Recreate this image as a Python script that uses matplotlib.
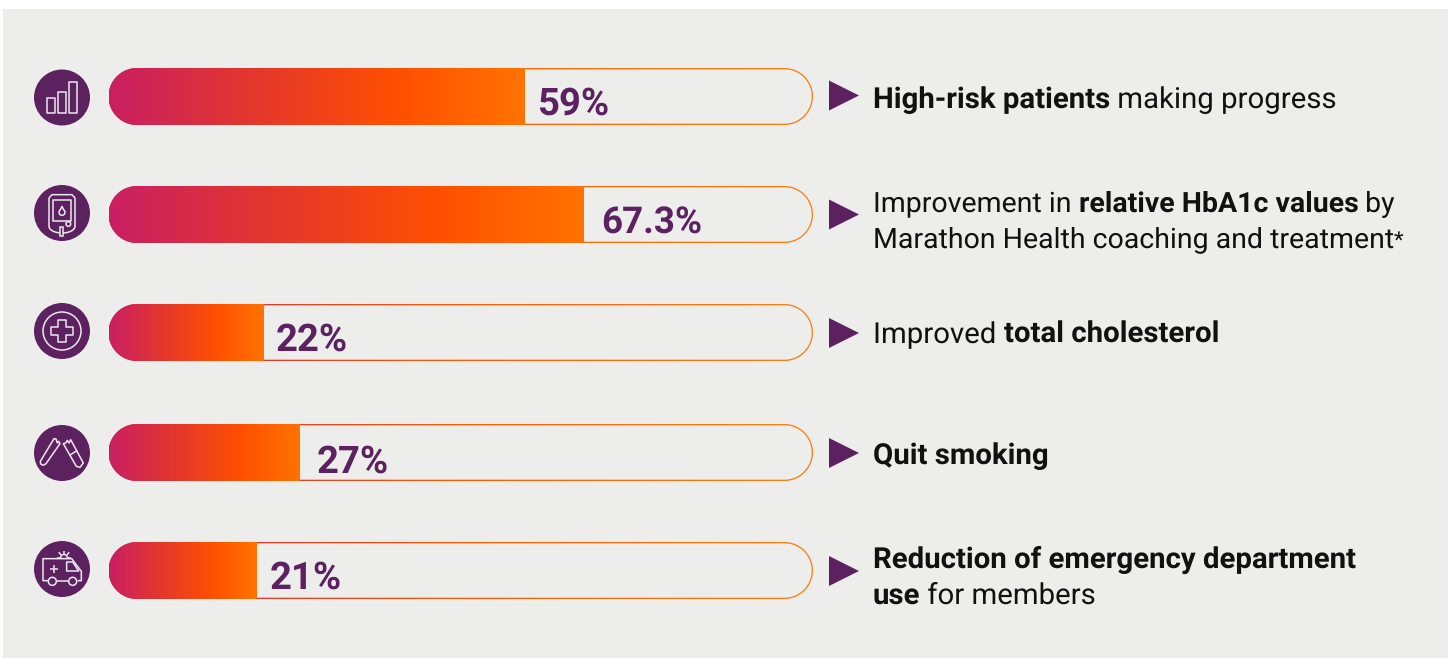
import numpy as np
import matplotlib
matplotlib.use('Agg')
import matplotlib.pyplot as plt
from matplotlib.colors import LinearSegmentedColormap
from matplotlib.patches import Circle, Polygon, Rectangle
from matplotlib.path import Path

plt.rcParams['font.family'] = ['Roboto', 'DejaVu Sans']
plt.rcParams['text.hinting'] = 'no_hinting'

# values
percent_values = [59, 67.3, 22, 27, 21]
percent_labels = ['59%', '67.3%', '22%', '27%', '21%']
# each caption is a list of lines, each line a list of (text, bold) runs
captions = [
    [[('High-risk patients', True), (' making progress', False)]],
    [[('Improvement in ', False), ('relative HbA1c values', True), (' by', False)],
     [('Marathon Health coaching and treatment', False), ('*', False)]],
    [[('Improved ', False), ('total cholesterol', True)]],
    [[('Quit smoking', True)]],
    [[('Reduction of emergency department', True)],
     [('use', True), (' for members', False)]],
]

# layout, in pixels from the top left
W, H = 1448, 658
row_y = [96.5, 214.5, 332.5, 452.5, 570.5]
icon_y = [97.5, 213, 331, 453, 569]
arrow_y = [95.5, 214.5, 333, 453, 571]
label_x = [537, 601, 276, 317, 270]
label_base = [115, 233.5, 350.5, 472.5, 589]
label_size = [27.5, 26.5, 27.5, 27.5, 27.5]
caption_base = [[108], [211.5, 247.5], [343], [464], [568, 604]]
caption_size = [21.2, 20.5, 21.2, 21.2, 21.2]
BAR_X0, BAR_X1 = 108.5, 813
BAR_H = 57
ICON_X = 62

BG = '#EDEDEB'
PURPLE = '#5C2260'
LINE = '#EDE6EE'
grad = LinearSegmentedColormap.from_list(
    'bar', [(0, '#C91F63'), (0.33, '#E2362F'), (0.7, '#FF5000'), (1, '#FF7300')])
outline_grad = LinearSegmentedColormap.from_list(
    'outline', [(0, '#C91F63'), (0.2, '#E2362F'), (0.5, '#FF5A00'), (1, '#FF7F10')])
ramp = np.linspace(0, 1, 256)[None, :]

fig = plt.figure(figsize=(W / 100, H / 100), dpi=100, facecolor='white')

canvas = fig.add_axes([0, 0, 1, 1], zorder=0)
canvas.set_xlim(0, W)
canvas.set_ylim(H, 0)
canvas.axis('off')
canvas.add_patch(Rectangle((3, 9), W, H, fc=BG, ec='none'))

ax = fig.add_axes([BAR_X0 / W, 0, (BAR_X1 - BAR_X0) / W, 1], zorder=1)
ax.axis('off')


def pill(x0, y0, x1, y1, reverse=False):
    r = (y1 - y0) / 2
    t = np.linspace(-np.pi / 2, np.pi / 2, 60)
    right = np.column_stack([x1 - r + r * np.cos(t), (y0 + y1) / 2 + r * np.sin(t)])
    left = np.column_stack([x0 + r - r * np.cos(t), (y0 + y1) / 2 - r * np.sin(t)])
    pts = np.vstack([right, left, right[:1]])
    if reverse:
        pts = pts[::-1]
    return Path(pts, closed=True)


def text_width(s, **kw):
    # the bar is there so trailing spaces count
    t1 = canvas.text(0, 0, s + '|', **kw)
    t2 = canvas.text(0, 0, '|', **kw)
    r = fig.canvas.get_renderer()
    w = t1.get_window_extent(r).width - t2.get_window_extent(r).width
    t1.remove()
    t2.remove()
    return w


def line(cx, cy, pts, closed=False):
    # icon outlines are noted on a 3-units-per-pixel grid
    p = np.array(pts, dtype=float) / 3 + [cx, cy]
    canvas.add_patch(Polygon(p, closed=closed, fc='none', ec=LINE, lw=1.1, joinstyle='round', zorder=4))


def ring(cx, cy, x, y, r):
    canvas.add_patch(Circle((cx + x / 3, cy + y / 3), r / 3, fc='none', ec=LINE, lw=1.1, zorder=4))


def icon_chart(cx, cy):
    line(cx, cy, [(-45, 1), (-21, 1), (-21, 47), (-45, 47)], True)
    line(cx, cy, [(-11, -17), (13, -17), (13, 47), (-11, 47)], True)
    line(cx, cy, [(21, -46), (45, -46), (45, 47), (21, 47)], True)


def icon_meter(cx, cy):
    t = np.linspace(0, np.pi, 20)
    body = [(-39, 40), (-39, -45), (-30, -55), (30, -55), (39, -45), (39, 40)]
    body = [(39 * np.cos(a), 40 + 20 * np.sin(a)) for a in t] + body
    line(cx, cy, body, True)
    line(cx, cy, [(-26, -38), (26, -38), (26, 24), (-26, 24)], True)
    a = np.linspace(-0.3 * np.pi, 1.3 * np.pi, 16)
    drop = [(0, -20)] + [(9 * np.cos(v), -2 + 9 * np.sin(v)) for v in a]
    line(cx, cy, drop, True)
    ring(cx, cy, 19, 33, 7)
    canvas.add_patch(Rectangle((cx - 5 / 3, cy + 43 / 3), 9 / 3, 27 / 3, fc=PURPLE, ec=LINE, lw=1.1, zorder=5))


def icon_cross(cx, cy):
    ring(cx, cy, 0, 0, 57)
    a, b = 11, 32
    line(cx, cy, [(-a, -b), (a, -b), (a, -a), (b, -a), (b, a), (a, a), (a, b),
                  (-a, b), (-a, a), (-b, a), (-b, -a), (-a, -a)], True)


def icon_cigarette(cx, cy):
    line(cx, cy, [(-24, -43), (-65, 25), (-64, 33), (-56, 37), (-48, 32), (-6, -28),
                  (-10, -35), (-14, -30), (-18, -42)], True)
    line(cx, cy, [(4, -28), (43, 40), (54, 43), (64, 30), (26, -40),
                  (21, -30), (16, -38), (11, -30)], True)
    line(cx, cy, [(23, 7), (46, -8)])


def icon_ambulance(cx, cy):
    line(cx, cy, [(-41, 35), (-57, 35), (-57, -31), (29, -31), (58, 7), (58, 35), (47, 35)])
    line(cx, cy, [(-17, 35), (20, 35)])
    line(cx, cy, [(14, -21), (32, -21), (50, 6), (14, 6)], True)
    ring(cx, cy, -29, 37, 12)
    ring(cx, cy, 32, 37, 12)
    line(cx, cy, [(-36, 0), (-12, 0)])
    line(cx, cy, [(-24, -12), (-24, 12)])
    line(cx, cy, [(-5, -31), (-2, -41), (6, -44), (14, -41), (17, -31)])
    line(cx, cy, [(6, -44), (6, -53)])
    line(cx, cy, [(-3, -43), (-10, -50)])
    line(cx, cy, [(15, -43), (22, -50)])
    line(cx, cy, [(-6, -34), (-14, -34)])
    line(cx, cy, [(18, -34), (26, -34)])


icons = [icon_chart, icon_meter, icon_cross, icon_cigarette, icon_ambulance]

for i, val in enumerate(percent_values):
    y = row_y[i]
    top, bottom = y - BAR_H / 2, y + BAR_H / 2

    outer = pill(BAR_X0, top, BAR_X1, bottom)
    inner = pill(BAR_X0 + 1.3, top + 1.3, BAR_X1 - 1.3, bottom - 1.3, reverse=True)
    edge = Path.make_compound_path(outer, inner)

    im = ax.imshow(ramp, cmap=outline_grad, extent=(0, 100, bottom, top), aspect='auto')
    im.set_clip_path(edge, canvas.transData)
    im = ax.imshow(ramp, cmap=grad, extent=(0, val, bottom, top), aspect='auto')
    im.set_clip_path(outer, canvas.transData)

    canvas.add_patch(Circle((ICON_X, icon_y[i]), 28, fc=PURPLE, ec='none'))
    icons[i](ICON_X, icon_y[i])

    canvas.text(label_x[i], label_base[i], percent_labels[i], fontsize=label_size[i], fontweight='bold',
                color=PURPLE, va='baseline', ha='left')

    ay = arrow_y[i]
    canvas.add_patch(Polygon([(829, ay - 15), (859, ay), (829, ay + 15)], fc=PURPLE, ec='none'))

    for runs, base in zip(captions[i], caption_base[i]):
        x = 873
        for txt, bold in runs:
            # the footnote mark sits smaller than the caption text
            size = 16 if txt == '*' else caption_size[i]
            kw = dict(fontsize=size, fontweight='bold' if bold else 'normal')
            canvas.text(x, base, txt, color='#111111', va='baseline', ha='left', **kw)
            x += text_width(txt, **kw)

ax.set_xlim(0, 100)
ax.set_ylim(H, 0)

fig.savefig('out.png', dpi=100)
